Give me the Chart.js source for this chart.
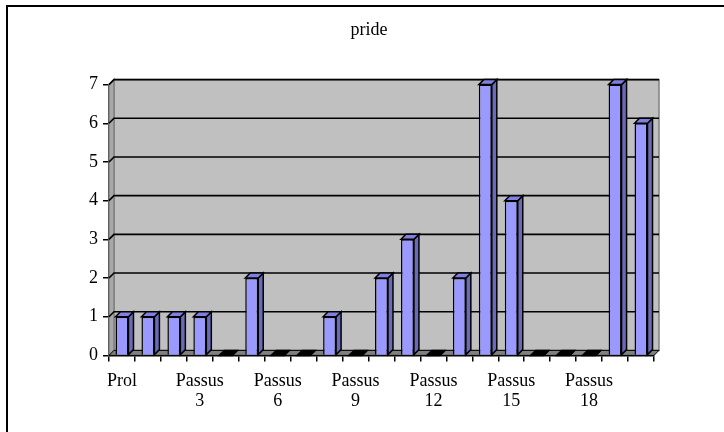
<!DOCTYPE html>
<html>
<head>
<meta charset="utf-8">
<script src="https://cdn.jsdelivr.net/npm/chart.js@4/dist/chart.umd.min.js"></script>
<style>
  body { margin:0; background:#fff; }
  #wrap { width:724px; height:432px; position:relative; }
</style>
</head>
<body>
<div id="wrap"><canvas id="myChart" width="724" height="432"></canvas></div>
<script>
// passages of the poem, counts of "pride"
let sections = ['Prol'];
for (let i = 1; i <= 20; i++) sections.push('Passus ' + i);
let counts = [1, 1, 1, 1, 0, 2, 0, 0, 1, 0, 2, 3, 0, 2, 7, 4, 0, 0, 0, 7, 6];
let yTicks = [0, 1, 2, 3, 4, 5, 6, 7];

let depth = 5;

// back wall, floor and the bar sides, all drawn from the library's own scales
let fake3d = {
  id: 'fake3d',
  beforeDatasetsDraw(chart) {
    let c = chart.ctx, a = chart.chartArea, y = chart.scales.y;
    c.save();
    // back wall
    c.fillStyle = '#c0c0c0';
    c.strokeStyle = '#808080';
    c.lineWidth = 1.5;
    c.fillRect(a.left + depth, a.top - depth, a.right - a.left, a.bottom - a.top);
    c.strokeRect(a.left + depth, a.top - depth, a.right - a.left, a.bottom - a.top);
    // left side wall
    c.fillStyle = '#a8a8a8';
    c.beginPath();
    c.moveTo(a.left, a.top); c.lineTo(a.left + depth, a.top - depth);
    c.lineTo(a.left + depth, a.bottom - depth); c.lineTo(a.left, a.bottom);
    c.closePath(); c.fill(); c.stroke();
    // grid lines on the wall
    c.strokeStyle = '#000';
    c.lineWidth = 1.6;
    yTicks.forEach(v => {
      if (v == 0) return;
      let p = y.getPixelForValue(v);
      c.beginPath();
      c.moveTo(a.left, p); c.lineTo(a.left + depth, p - depth); c.lineTo(a.right + depth, p - depth);
      c.stroke();
    });
    // floor
    c.fillStyle = '#808080';
    c.strokeStyle = '#000';
    c.lineWidth = 1;
    c.beginPath();
    c.moveTo(a.left, a.bottom); c.lineTo(a.left + depth, a.bottom - depth);
    c.lineTo(a.right + depth, a.bottom - depth); c.lineTo(a.right, a.bottom);
    c.closePath(); c.fill(); c.stroke();
    c.restore();
  },
  afterDatasetsDraw(chart) {
    let c = chart.ctx;
    c.save();
    c.strokeStyle = '#000';
    c.lineWidth = 1.5;
    chart.getDatasetMeta(0).data.forEach(b => {
      let l = b.x - b.width / 2, r = b.x + b.width / 2;
      // right side
      c.fillStyle = '#6a6ab8';
      c.beginPath();
      c.moveTo(r, b.y); c.lineTo(r + depth, b.y - depth);
      c.lineTo(r + depth, b.base - depth); c.lineTo(r, b.base);
      c.closePath(); c.fill(); c.stroke();
      // top
      c.fillStyle = b.y == b.base ? '#000' : '#8080e0';
      c.beginPath();
      c.moveTo(l, b.y); c.lineTo(l + depth, b.y - depth);
      c.lineTo(r + depth, b.y - depth); c.lineTo(r, b.y);
      c.closePath(); c.fill(); c.stroke();
    });
    c.restore();
  },
  afterDraw(chart) {
    // frame of the chart object, only left and top edges are visible
    let c = chart.ctx;
    c.save();
    c.strokeStyle = '#000';
    c.lineWidth = 2;
    c.beginPath();
    c.moveTo(7, 432); c.lineTo(7, 6); c.lineTo(724, 6);
    c.stroke();
    c.restore();
  }
};

let ctx = document.getElementById('myChart');
document.myChart = new Chart(ctx, {
  type: 'bar',
  data: {
    labels: sections,
    datasets: [{
      data: counts,
      backgroundColor: '#9999ff',
      borderColor: '#000',
      borderWidth: 1.5,
      categoryPercentage: 0.5,
      barPercentage: 1.0
    }]
  },
  options: {
    responsive: false,
    animation: false,
    layout: {
      padding: { left: 84, right: 70, top: 19, bottom: 11 }
    },
    scales: {
      y: {
        min: 0, max: 7,
        ticks: {
          stepSize: 1,
          color: '#000',
          padding: 5,
          font: { family: 'Liberation Serif', size: 18 }
        },
        grid: { drawOnChartArea: false, color: '#000', lineWidth: 1.5, tickLength: 6 },
        border: { color: '#000', width: 1.5 }
      },
      x: {
        offset: true,
        ticks: {
          autoSkip: false,
          maxRotation: 0,
          minRotation: 0,
          color: '#000',
          padding: 10,
          font: { family: 'Liberation Serif', size: 18, lineHeight: 1.1 },
          callback: function(val, i) {
            if (i % 3 != 0) return '';
            return sections[i].split(' ');
          }
        },
        grid: { offset: true, drawOnChartArea: false, color: '#000', lineWidth: 1.5, tickLength: 6 },
        border: { color: '#000', width: 1.5 }
      }
    },
    plugins: {
      legend: { display: false },
      tooltip: { enabled: false },
      title: {
        display: true,
        text: 'pride',
        color: '#000',
        font: { family: 'Liberation Serif', size: 18, weight: 'normal' },
        padding: { top: 0, bottom: 44 }
      }
    }
  },
  plugins: [fake3d]
});
</script>
</body>
</html>
